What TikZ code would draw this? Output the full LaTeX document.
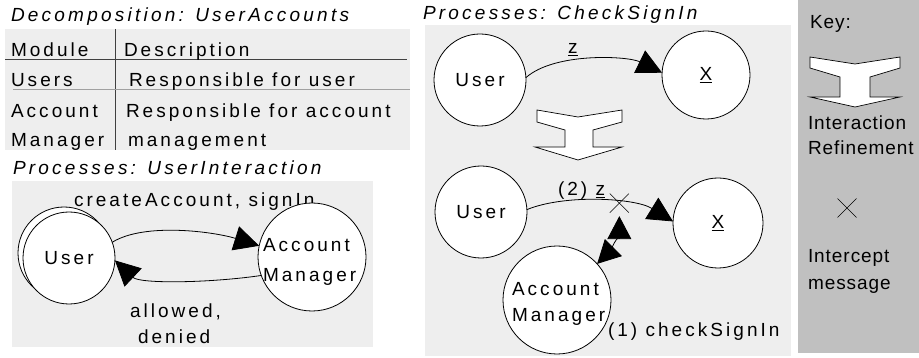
\documentclass[tikz,border=0pt]{standalone}
\usepackage{fontspec}
\setmainfont{Liberation Sans}
\newfontfamily\bodyfont{Liberation Sans}[LetterSpace=16]
\newfontfamily\keyfont{Liberation Sans}[LetterSpace=5]
\newfontfamily\headfont{Liberation Sans}[LetterSpace=17]
\usetikzlibrary{arrows.meta,calc,shapes.misc}
\definecolor{panelgray}{HTML}{EEEEEE}
\definecolor{keygray}{HTML}{C0C0C0}
\definecolor{ruledark}{HTML}{404040}
\definecolor{rulelight}{HTML}{A0A0A0}
\begin{document}
\begin{tikzpicture}[x=1pt,y=-1pt,
  every node/.style={inner sep=0pt, outer sep=0pt},
  body/.style={font={\fontsize{19}{22}\selectfont\bodyfont}},
  lbl/.style={body, anchor=base west},
  keytxt/.style={font={\fontsize{19}{22}\selectfont\keyfont}, anchor=base west},
  head/.style={font={\fontsize{19}{22}\selectfont\headfont\itshape}, anchor=base west},
  proc/.style={circle, draw, fill=white, line width=0.8pt, minimum size=#1, body},
  msg/.style={line width=0.8pt, -{Triangle[length=25pt,width=25pt]}},
  dblmsg/.style={line width=0.8pt, {Triangle[length=23pt,width=24pt]}-{Triangle[length=23pt,width=24pt]}},
  intercept/.style={cross out, draw, line width=0.6pt, minimum size=19pt},
  refine/.style={draw, fill=white, line width=0.7pt, line join=miter}]
\useasboundingbox (0,0) rectangle (919,358);

% ---------- panels ----------
\fill[panelgray] (5,29) rectangle (410,150);
\fill[panelgray] (12,181) rectangle (373,347);
\fill[panelgray] (425,25) rectangle (791,356);
\fill[keygray] (798,0) rectangle (919,353);

% ---------- decomposition table ----------
\node[head] (t-decomp) at (11,22) {Decomposition: UserAccounts};
\draw[ruledark, line width=0.8pt] (115,29) -- (115,150);
\draw[ruledark, line width=0.8pt] (5,59) -- (407,59);
\draw[rulelight, line width=0.8pt] (13,89) -- (410,89);
\node[lbl] (c-module) at (11,57) {Module};
\node[lbl] (c-desc) at (124,57) {Description};
\node[lbl] (c-users) at (11,87) {Users};
\node[lbl] (c-usersd) at (129,87) {Responsible for user};
\node[lbl] (c-acc) at (11,118) {Account};
\node[lbl] (c-accd) at (126,118) {Responsible for account};
\node[lbl] (c-mgr) at (11,147) {Manager};
\node[lbl] (c-mgrd) at (128,147) {management};

% ---------- UserInteraction ----------
\node[head] (t-inter) at (13,175) {Processes: UserInteraction};
\node[lbl] (l-create) at (74,207) {createAccount, signIn};
\node[proc=92pt] (u0) at (64,253) {};
\node[proc=92pt] (u1) at (69,258) {User};
\node[proc=108pt] (am1) at (312,257) {};
\node[lbl] (am1-a) at (263,252) {Account};
\node[lbl] (am1-b) at (263,282) {Manager};
\draw[msg] (u1.20) .. controls (145,222) and (215,232) .. (am1.168);
\draw[msg] (am1.200) .. controls (210,283) and (140,284) .. (u1.-3);
\node[lbl] (l-allowed) at (130,317) {allowed,};
\node[lbl] (l-denied) at (138,343) {denied};

% ---------- CheckSignIn ----------
\node[head] (t-check) at (423,20) {Processes: CheckSignIn};
\node[proc=92pt] (u2) at (480,80) {User};
\node[proc=88pt] (x1) at (706,75) {\underline{X}};
\draw[msg] (u2.3) .. controls (555,52) and (628,56) .. (x1.177);
\node[body, anchor=base west] (l-z1) at (568,54) {\underline{z}};

\draw[refine] (537,110) -- (578,117) -- (622,110) -- (622,122) -- (593,130)
  -- (593,147) -- (622,147) -- (578,160) -- (535,147) -- (565,147)
  -- (565,130) -- (537,122) -- cycle;

\node[proc=92pt] (u3) at (481,212) {User};
\node[proc=90pt] (x2) at (718,223) {\underline{X}};
\node[proc=108pt] (am2) at (557,300) {};
\node[lbl] (am2-a) at (512,295) {Account};
\node[lbl] (am2-b) at (512,322) {Manager};
\draw[msg] (u3.3) .. controls (565,194) and (635,198) .. (x2.178)
  coordinate[pos=0.62] (icpt);
\node[intercept] (cross) at (icpt) {};
\coordinate (cross-tip) at ($(icpt)+(0,13)$);
\draw[dblmsg] (am2.42) .. controls +(-45:16) and +(90:16) .. (cross-tip);
\node[lbl] (l-z2) at (558,196) {(2) \underline{z}};
\node[lbl] (l-check) at (608,337) {(1) checkSignIn};

% ---------- key ----------
\node[keytxt] (k-title) at (810,29) {Key:};
\draw[refine] (810,57) -- (855,64) -- (900,57) -- (900,68) -- (870,77)
  -- (870,97) -- (900,97) -- (855,107) -- (810,97) -- (840,97)
  -- (840,77) -- (810,68) -- cycle;
\node[keytxt] (k-inter) at (808,130) {Interaction};
\node[keytxt] (k-refine) at (808,155) {Refinement};
\node[intercept] (k-cross) at (847,208) {};
\node[keytxt] (k-icpt) at (808,263) {Intercept};
\node[keytxt] (k-msg) at (808,290) {message};
\end{tikzpicture}
\end{document}
